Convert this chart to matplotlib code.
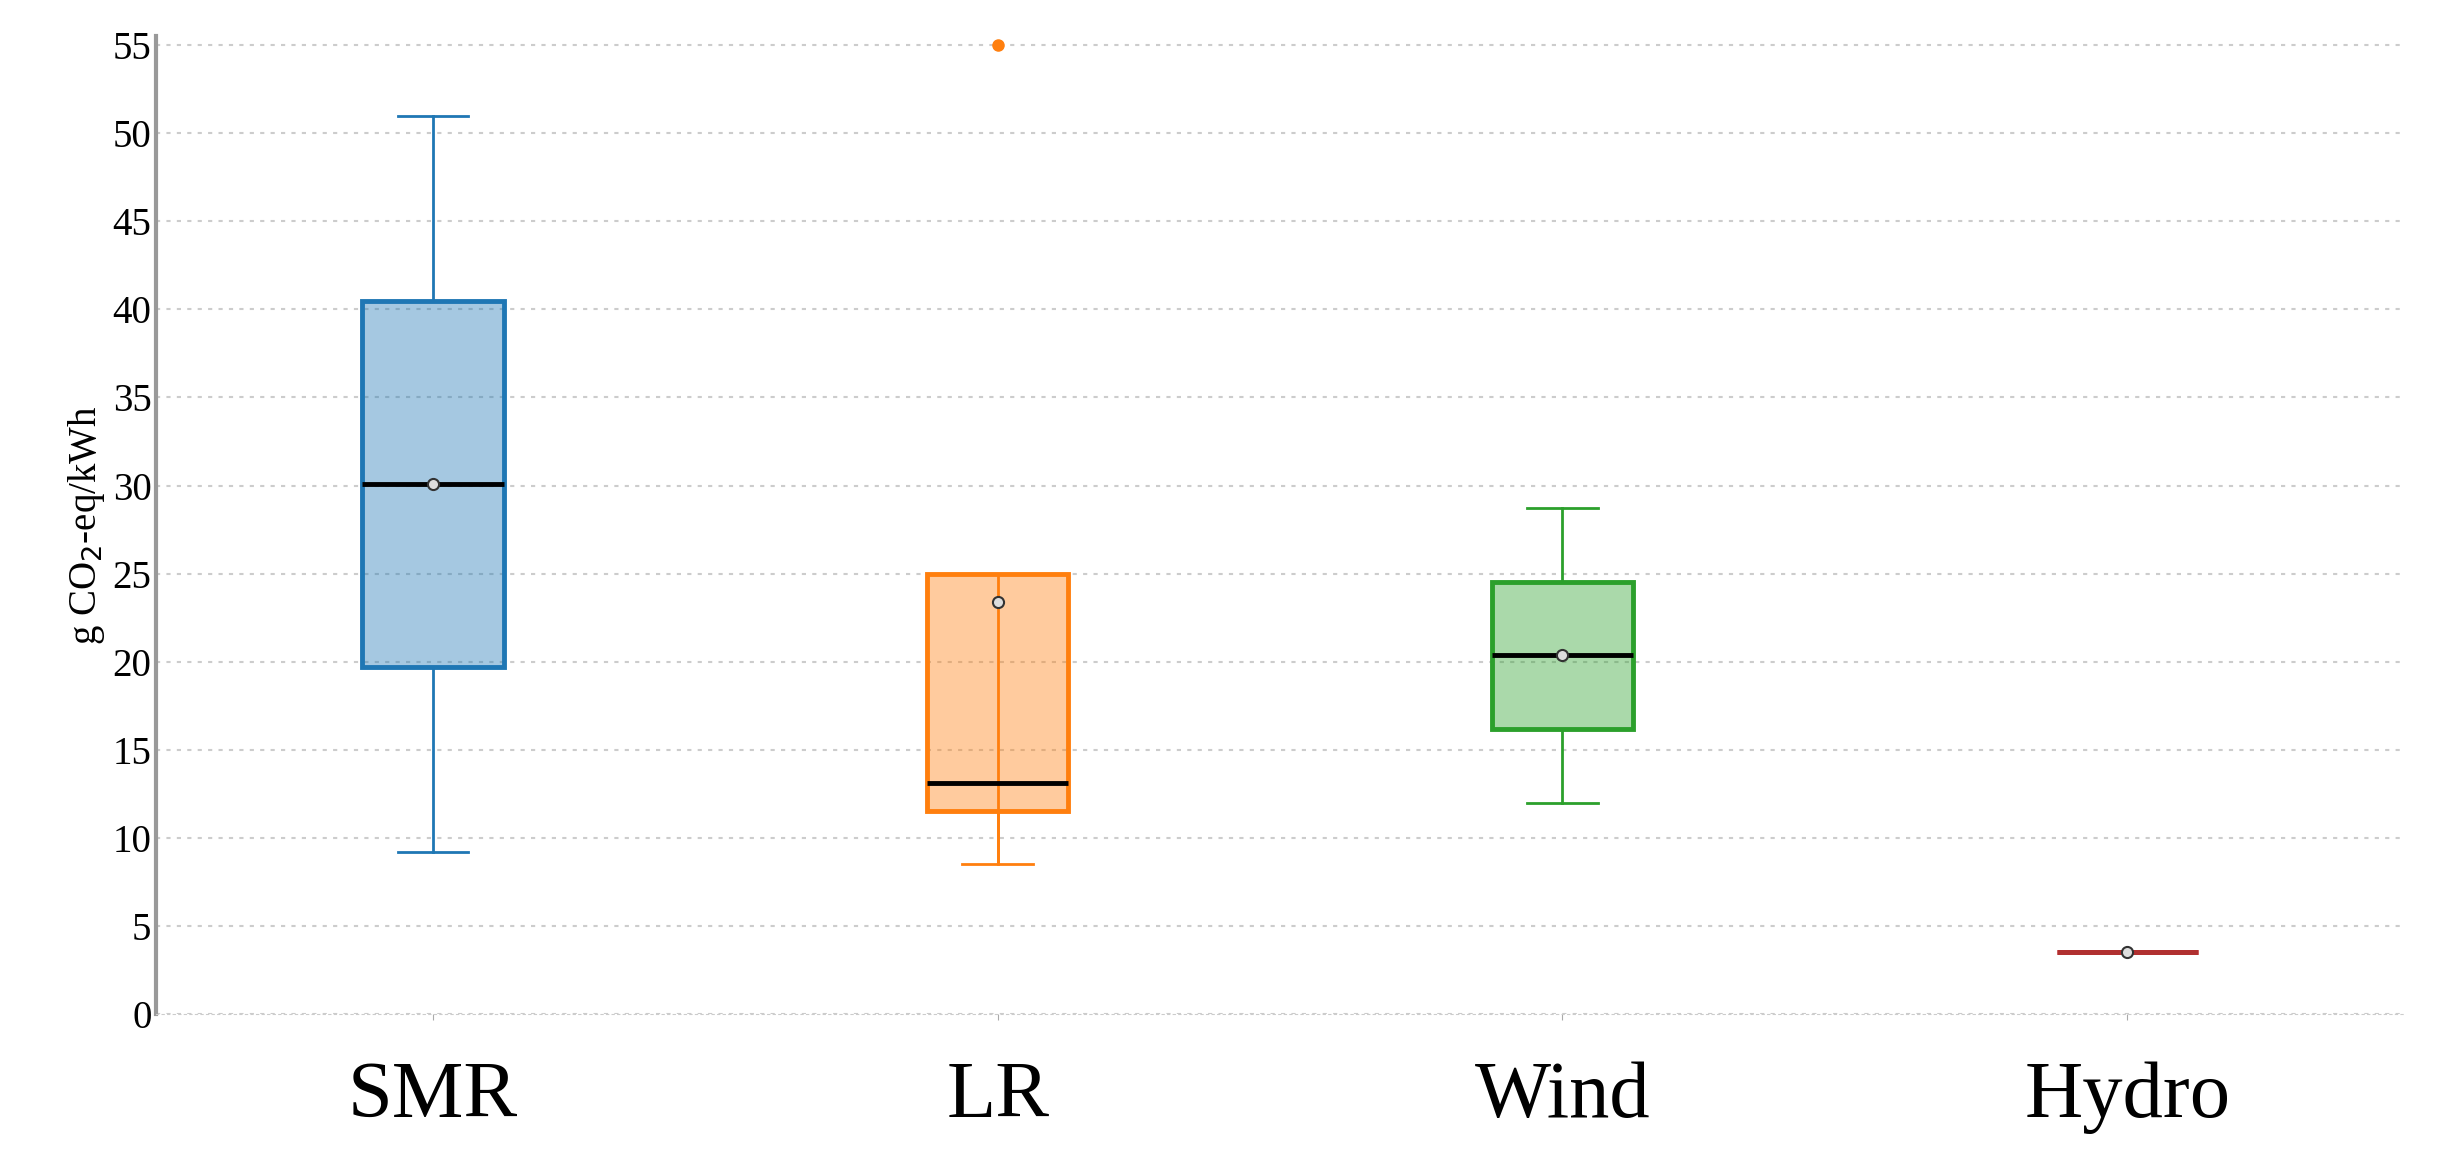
import matplotlib
matplotlib.use("Agg")
import matplotlib.pyplot as plt
from matplotlib.colors import to_rgba

categories = ["SMR", "LR", "Wind", "Hydro"]
whislo = [9.2, 8.5, 12.0, 3.5]
q1 = [19.7, 11.5, 16.2, 3.5]
med = [30.1, 13.1, 20.4, 3.5]
mean = [30.1, 23.4, 20.4, 3.5]
q3 = [40.5, 25.0, 24.5, 3.5]
whishi = [51.0, 25.0, 28.7, 3.5]
fliers = [[], [55.0], [], []]
colors = ["#1f77b4", "#ff7f0e", "#2ca02c", "#d62728"]
median_colors = ["black", "black", "black", "#b03030"]

plt.rcParams['font.family'] = ['Liberation Serif', 'DejaVu Serif']
fig = plt.figure(figsize=(24.43, 11.71), dpi=100)
ax = fig.add_axes([0.064, 0.134, 0.92, 0.835])

for i, c in enumerate(categories):
    stats = [dict(whislo=whislo[i], q1=q1[i], med=med[i], q3=q3[i],
                  whishi=whishi[i], mean=mean[i], fliers=fliers[i])]
    col = colors[i]
    ax.bxp(stats, positions=[i], widths=0.25, patch_artist=True, showmeans=True,
           showcaps=True,
           boxprops=dict(facecolor=to_rgba(col, 0.4), edgecolor=col, linewidth=3.5),
           whiskerprops=dict(color=col, linewidth=2),
           capprops=dict(color=col, linewidth=2),
           medianprops=dict(color=median_colors[i], linewidth=3.5),
           meanprops=dict(marker="o", markerfacecolor="#dddddd", markeredgecolor="#333333",
                          markersize=8, markeredgewidth=1.5),
           flierprops=dict(marker="o", markerfacecolor=col, markeredgecolor=col, markersize=8))

# LR whisker line visible through the box
ax.vlines(1, whislo[1], whishi[1], color=colors[1], linewidth=2, zorder=1.5)

ax.set_xlim(-0.49, 3.49)
ax.set_ylim(0, 55.5)
ax.set_yticks(range(0, 56, 5))
ax.set_xticks(range(len(categories)))
ax.set_xticklabels(categories, fontsize=58)
ax.tick_params(axis="x", length=4, color="#aaaaaa", pad=30)
ax.tick_params(axis="y", labelsize=28, length=0)
ax.yaxis.grid(True, linestyle=(0, (2, 3)), color="#cccccc", linewidth=1.5)
ax.set_axisbelow(True)
for s in ["top", "right"]:
    ax.spines[s].set_visible(False)
ax.spines["bottom"].set_linestyle((0, (2, 3)))
ax.spines["bottom"].set_color("#cccccc")
ax.spines["left"].set_color("#999999")
ax.spines["left"].set_linewidth(3)
ax.set_ylabel("g CO$_2$-eq/kWh", fontsize=28)
fig.savefig("out.png")
